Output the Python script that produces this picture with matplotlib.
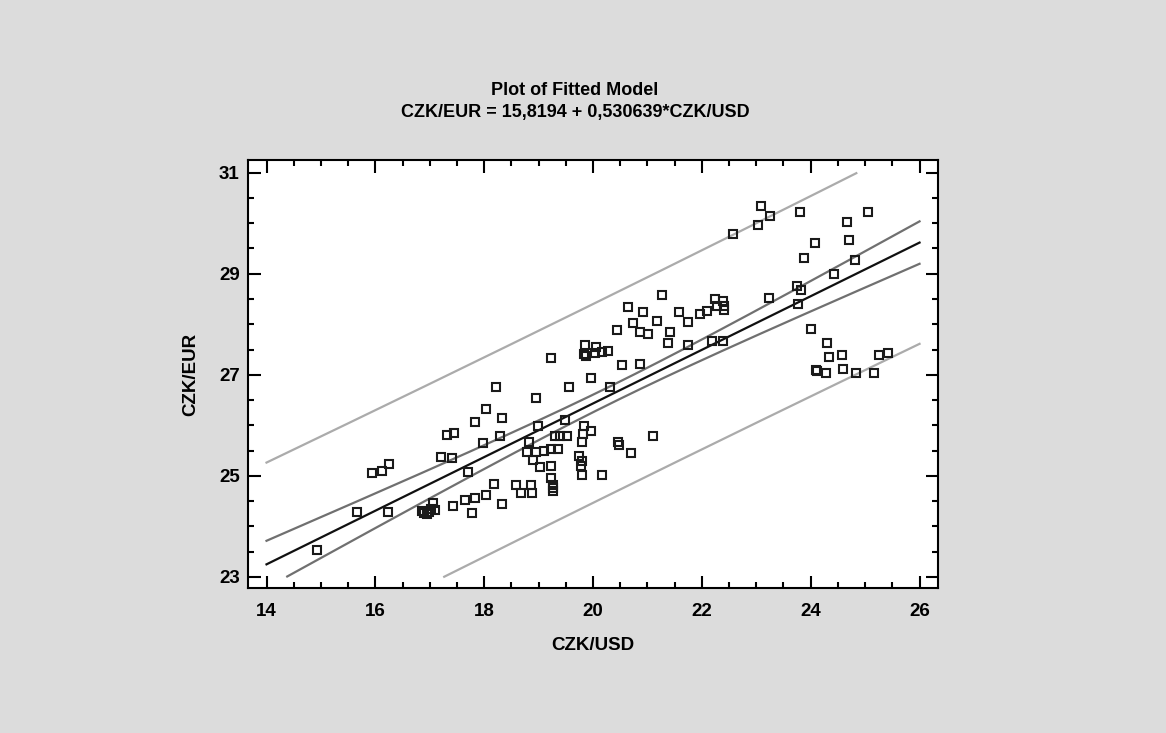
import numpy as np
from matplotlib import pyplot as plt
from matplotlib.ticker import MultipleLocator

plt.rcParams['font.family'] = ['Liberation Sans Narrow', 'Liberation Sans', 'DejaVu Sans']

# data
czk_usd = [14.92, 15.66, 15.93, 16.13, 16.26, 16.23, 16.85, 16.90, 16.95, 16.98,
           17.03, 17.06, 17.09, 17.43, 17.31, 17.45, 17.21, 17.41, 17.70, 17.64,
           17.84, 17.78, 17.84, 17.98, 18.04, 18.04, 18.21, 18.32, 18.29, 18.18,
           18.32, 18.59, 18.68, 18.86, 18.88, 18.82, 18.79, 18.96, 19.09, 19.22,
           19.36, 18.89, 19.02, 19.22, 19.22, 19.26, 19.26, 19.26, 18.96, 18.99,
           19.31, 19.40, 19.53, 19.49, 19.56, 19.22, 19.83, 19.97, 19.82, 19.80,
           19.75, 19.80, 19.78, 19.80, 20.17, 20.46, 20.48, 20.70, 21.11, 19.97,
           20.31, 20.53, 20.87, 19.85, 19.84, 19.88, 20.06, 20.03, 20.17, 20.27,
           20.44, 20.64, 20.73, 20.91, 20.87, 21.01, 21.17, 21.27, 21.41, 21.38,
           21.58, 21.74, 21.74, 21.96, 22.09, 22.25, 22.27, 22.39, 22.40, 22.40,
           22.19, 22.39, 22.58, 23.03, 23.08, 23.25, 23.23, 23.81, 23.74, 23.83,
           23.77, 23.87, 24.00, 24.07, 24.43, 24.30, 24.33, 24.58, 24.10, 24.12,
           24.28, 24.60, 24.67, 24.71, 24.81, 24.84, 25.05, 25.17, 25.25, 25.42]
czk_eur = [23.54, 24.29, 25.06, 25.09, 25.23, 24.29, 24.30, 24.27, 24.25, 24.28,
           24.35, 24.47, 24.33, 24.41, 25.81, 25.85, 25.38, 25.35, 25.07, 24.52,
           24.56, 24.26, 26.07, 25.65, 26.32, 24.62, 26.76, 26.14, 25.79, 24.84,
           24.45, 24.81, 24.66, 24.81, 24.66, 25.67, 25.47, 25.47, 25.50, 25.54,
           25.53, 25.31, 25.17, 25.20, 24.95, 24.82, 24.76, 24.69, 26.54, 25.99,
           25.78, 25.79, 25.78, 26.11, 26.76, 27.34, 25.98, 25.89, 25.83, 25.66,
           25.39, 25.30, 25.19, 25.02, 25.02, 25.66, 25.62, 25.45, 25.78, 26.94,
           26.76, 27.19, 27.22, 27.58, 27.42, 27.38, 27.54, 27.44, 27.46, 27.47,
           27.88, 28.34, 28.03, 28.24, 27.85, 27.80, 28.06, 28.57, 27.84, 27.62,
           28.24, 28.05, 27.59, 28.21, 28.26, 28.50, 28.37, 28.46, 28.36, 28.28,
           27.67, 27.66, 29.79, 29.97, 30.34, 30.15, 28.52, 30.22, 28.75, 28.67,
           28.41, 29.31, 27.91, 29.61, 29.00, 27.62, 27.36, 27.40, 27.09, 27.07,
           27.04, 27.11, 30.03, 29.67, 29.28, 27.04, 30.22, 27.04, 27.40, 27.44]

x_ticks = [14, 16, 18, 20, 22, 24, 26]
y_ticks = [23, 25, 27, 29, 31]

intercept = 15.8194
slope = 0.530639

x = np.array(czk_usd)
y = np.array(czk_eur)
n = len(x)
xbar = x.mean()
sxx = ((x - xbar) ** 2).sum()
s = np.sqrt(((y - (intercept + slope * x)) ** 2).sum() / (n - 2))
t = 1.98  # 95%

xx = np.linspace(14, 26, 600)
fit = intercept + slope * xx
ci = t * s * np.sqrt(1.0 / n + (xx - xbar) ** 2 / sxx)
pi = t * s * np.sqrt(1 + 1.0 / n + (xx - xbar) ** 2 / sxx)

def clip(v):
    return np.where((v >= 23) & (v <= 31), v, np.nan)

fig = plt.figure(figsize=(11.66, 7.33), dpi=100, facecolor='#dcdcdc')
ax = fig.add_axes([0.2127, 0.1978, 0.5918, 0.5839])
ax.set_facecolor('white')

ax.plot(xx, clip(fit + pi), color='#ababab', lw=1.6)
ax.plot(xx, clip(fit - pi), color='#ababab', lw=1.6)
ax.plot(xx, clip(fit + ci), color='#707070', lw=1.6)
ax.plot(xx, clip(fit - ci), color='#707070', lw=1.6)
ax.plot(xx, clip(fit), color='#101010', lw=1.6)
ax.plot(x, y, 's', mfc='none', mec='#1a1a1a', mew=1.5, ms=6.3)

ax.set_xlim(13.66, 26.34)
ax.set_ylim(22.78, 31.25)
ax.set_xticks(x_ticks)
ax.set_yticks(y_ticks)
ax.xaxis.set_minor_locator(MultipleLocator(0.5))
ax.yaxis.set_minor_locator(MultipleLocator(0.5))
ax.tick_params(which='both', direction='in', top=True, right=True, width=1.5, color='black')
ax.tick_params(which='major', length=9, labelsize=13.5)
ax.tick_params(axis='x', which='major', pad=11)
ax.tick_params(axis='y', which='major', pad=6)
ax.tick_params(which='minor', length=4.5)
for lab in ax.get_xticklabels() + ax.get_yticklabels():
    lab.set_fontweight('bold')
for sp in ax.spines.values():
    sp.set_linewidth(1.5)

ax.set_xlabel('CZK/USD', fontsize=13.5, fontweight='bold', labelpad=12)
ax.set_ylabel('CZK/EUR', fontsize=13.5, fontweight='bold', labelpad=14)

fig.text(0.493, 0.877, 'Plot of Fitted Model', ha='center', va='center', fontsize=13, fontweight='bold')
fig.text(0.493, 0.847, 'CZK/EUR = 15,8194 + 0,530639*CZK/USD', ha='center', va='center', fontsize=13, fontweight='bold')

plt.savefig('out.png', dpi=100, facecolor=fig.get_facecolor())
